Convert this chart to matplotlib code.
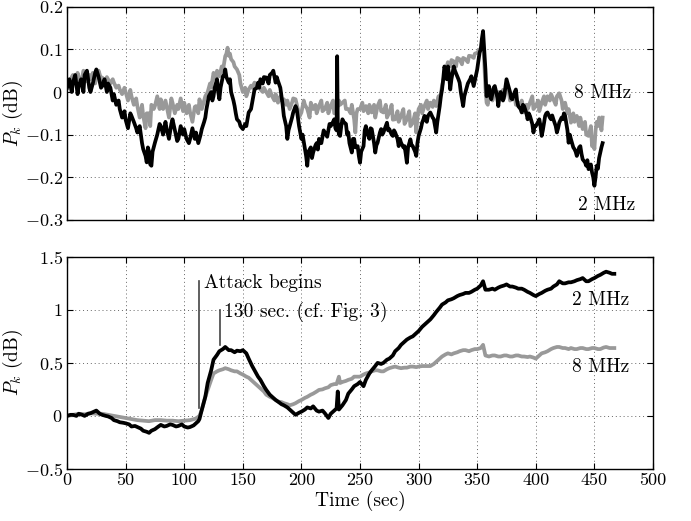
import numpy as np
import matplotlib
matplotlib.use("Agg")
import matplotlib.pyplot as plt

plt.rcParams['font.family'] = 'serif'
plt.rcParams['font.serif'] = ['cmr10']
plt.rcParams['mathtext.fontset'] = 'cm'
plt.rcParams['axes.formatter.use_mathtext'] = True
plt.rcParams['font.size'] = 14

# --- top panel, 2 MHz (black) ---
t_top_2mhz = [0, 2, 4, 5, 7, 9, 10, 12, 14, 15, 17, 19, 20, 22, 24, 25, 27, 29, 30, 32, 34, 35, 37, 39,
              40, 42, 44, 45, 47, 49, 50, 52, 54, 55, 57, 59, 60, 62, 64, 65, 67, 68, 69, 70, 71, 72, 73, 75,
              77, 79, 80, 82, 84, 85, 87, 89, 90, 92, 94, 95, 97, 99, 100, 102, 104, 105, 107, 109, 110, 112,
              114, 115, 117, 118, 119, 120, 121, 123, 124, 125, 126, 128, 129, 130, 131, 133, 134, 135, 136,
              138, 139, 140, 142, 143, 144, 145, 147, 148, 150, 152, 153, 155, 157, 158, 159, 160, 162, 163,
              164, 165, 167, 168, 170, 172, 173, 175, 176, 178, 179, 180, 182, 183, 184, 185, 187, 188, 189,
              190, 192, 193, 195, 196, 198, 200, 201, 203, 204, 205, 206, 208, 209, 210, 212, 213, 214, 215,
              217, 219, 220, 222, 224, 225, 227, 228, 229, 230, 230.5, 231, 232, 233, 234, 235, 236, 238, 239,
              240, 241, 243, 244, 245, 246, 248, 249, 250, 251, 253, 254, 255, 256, 258, 259, 260, 262, 263,
              264, 265, 267, 268, 269, 270, 272, 273, 274, 275, 277, 278, 279, 280, 282, 283, 284, 285, 287,
              288, 289, 290, 291, 293, 294, 295, 297, 298, 299, 300, 302, 303, 304, 305, 307, 308, 310, 312,
              313, 314, 315, 316, 318, 319, 320, 321, 322, 323, 324, 325, 326, 327, 328, 330, 331, 333, 334,
              335, 336, 338, 339, 340, 342, 344, 345, 347, 349, 350, 352, 353, 354, 355, 356, 357, 358, 359,
              360, 361, 362, 364, 365, 367, 368, 369, 370, 372, 373, 374, 375, 376, 378, 379, 380, 382, 383,
              384, 385, 387, 388, 389, 390, 392, 393, 394, 395, 397, 398, 399, 400, 402, 403, 404, 405, 406,
              408, 409, 410, 412, 413, 414, 415, 417, 418, 419, 420, 422, 423, 424, 425, 427, 428, 429, 430,
              432, 433, 434, 435, 437, 438, 439, 440, 442, 443, 444, 445, 447, 448, 449, 450, 451, 452, 453,
              454, 455, 456, 457]
v_top_2mhz = [0.01, 0.03, 0.0, 0.022, 0.04, -0.005, 0.014, 0.03, 0.0, 0.04, 0.05, 0.01, 0.0, 0.02, 0.045,
              0.053, 0.035, 0.01, 0.014, 0.03, 0.0, 0.02, 0.01, -0.02, -0.005, -0.03, -0.02, -0.04, -0.06,
              -0.045, -0.065, -0.085, -0.05, -0.056, -0.07, -0.085, -0.095, -0.08, -0.12, -0.134, -0.15,
              -0.165, -0.13, -0.14, -0.17, -0.173, -0.14, -0.119, -0.1, -0.075, -0.08, -0.1, -0.07, -0.087,
              -0.11, -0.075, -0.064, -0.09, -0.115, -0.11, -0.08, -0.1, -0.087, -0.11, -0.12, -0.11, -0.085,
              -0.11, -0.095, -0.12, -0.1, -0.087, -0.07, -0.06, -0.04, -0.025, -0.01, 0.0, -0.02, -0.01, 0.01,
              0.03, 0.0, -0.017, 0.01, 0.037, 0.04, 0.053, 0.035, 0.022, 0.03, 0.0, -0.02, -0.033, -0.05,
              -0.064, -0.07, -0.08, -0.087, -0.075, -0.08, -0.048, -0.04, -0.025, -0.01, 0.006, 0.01, 0.022,
              0.01, 0.03, 0.02, 0.035, 0.034, 0.02, 0.04, 0.045, 0.05, 0.022, 0.035, 0.026, 0.01, -0.01,
              -0.03, -0.056, -0.08, -0.11, -0.09, -0.08, -0.06, -0.048, -0.033, -0.04, -0.08, -0.11, -0.1,
              -0.134, -0.15, -0.173, -0.14, -0.13, -0.155, -0.142, -0.125, -0.12, -0.135, -0.11, -0.12, -0.09,
              -0.095, -0.105, -0.075, -0.08, -0.07, -0.064, -0.085, -0.09, 0.084, -0.07, -0.1, -0.103, -0.08,
              -0.064, -0.07, -0.075, -0.1, -0.095, -0.12, -0.142, -0.11, -0.11, -0.13, -0.127, -0.15, -0.166,
              -0.14, -0.127, -0.09, -0.08, -0.095, -0.11, -0.085, -0.087, -0.12, -0.142, -0.125, -0.119,
              -0.095, -0.087, -0.1, -0.095, -0.08, -0.072, -0.09, -0.087, -0.1, -0.103, -0.09, -0.095, -0.11,
              -0.127, -0.11, -0.119, -0.13, -0.127, -0.145, -0.166, -0.13, -0.111, -0.125, -0.127, -0.14,
              -0.15, -0.12, -0.103, -0.085, -0.072, -0.065, -0.056, -0.07, -0.056, -0.048, -0.06, -0.064,
              -0.08, -0.095, -0.07, -0.033, -0.01, 0.006, 0.03, 0.06, 0.05, 0.03, 0.06, 0.04, 0.006, 0.03,
              0.06, 0.05, 0.037, 0.03, 0.022, 0.0, -0.033, -0.01, 0.0, 0.02, 0.03, 0.037, 0.014, 0.04, 0.053,
              0.092, 0.1, 0.125, 0.143, 0.1, 0.053, -0.01, 0.0, 0.014, -0.01, -0.017, 0.01, 0.014, -0.01,
              -0.033, -0.01, 0.0, -0.02, -0.01, 0.01, 0.03, 0.02, 0.0, -0.015, -0.017, 0.0, 0.006, -0.02,
              -0.033, -0.04, -0.048, -0.03, -0.033, -0.05, -0.064, -0.05, -0.056, -0.075, -0.095, -0.08,
              -0.08, -0.07, -0.064, -0.08, -0.103, -0.09, -0.056, -0.05, -0.048, -0.06, -0.064, -0.055,
              -0.064, -0.08, -0.095, -0.085, -0.072, -0.06, -0.064, -0.05, -0.056, -0.09, -0.119, -0.1,
              -0.111, -0.13, -0.134, -0.14, -0.15, -0.13, -0.127, -0.145, -0.158, -0.165, -0.173, -0.16,
              -0.181, -0.17, -0.189, -0.2, -0.22, -0.2, -0.173, -0.18, -0.155, -0.142, -0.13, -0.12]

# --- top panel, 8 MHz (gray) ---
t_top_8mhz = [0, 2, 4, 5, 7, 9, 10, 12, 14, 15, 17, 19, 20, 22, 24, 25, 27, 29, 30, 32, 34, 35, 37, 39,
              40, 42, 44, 45, 47, 49, 50, 52, 54, 55, 57, 59, 60, 62, 64, 65, 67, 68, 70, 71, 72, 74, 75, 77,
              79, 80, 82, 84, 85, 87, 89, 90, 92, 94, 95, 97, 99, 100, 102, 104, 105, 107, 109, 110, 112, 113,
              115, 117, 118, 120, 122, 123, 125, 127, 128, 130, 132, 133, 135, 136, 137, 138, 139, 140, 142,
              143, 145, 147, 148, 150, 152, 153, 155, 157, 158, 160, 162, 163, 165, 167, 168, 170, 172, 173,
              175, 177, 178, 180, 182, 183, 185, 187, 188, 190, 192, 193, 195, 197, 198, 200, 202, 203, 205,
              207, 208, 210, 212, 213, 215, 217, 218, 220, 222, 223, 225, 227, 228, 230, 232, 233, 235, 237,
              238, 240, 242, 243, 245, 246, 247, 248, 250, 252, 253, 255, 257, 258, 260, 262, 263, 265, 267,
              268, 270, 272, 273, 275, 277, 278, 280, 282, 283, 285, 287, 288, 290, 292, 293, 295, 297, 298,
              299, 300, 302, 303, 305, 307, 308, 310, 312, 313, 315, 317, 318, 320, 322, 323, 325, 327, 328,
              330, 332, 333, 335, 337, 338, 340, 342, 343, 345, 347, 348, 350, 352, 353, 355, 356, 357, 358,
              359, 360, 362, 363, 365, 367, 368, 370, 372, 373, 375, 377, 378, 380, 382, 383, 385, 387, 388,
              390, 392, 393, 395, 397, 398, 400, 402, 403, 405, 407, 408, 410, 412, 413, 415, 417, 418, 420,
              422, 423, 425, 427, 428, 430, 432, 433, 435, 437, 438, 440, 442, 443, 445, 447, 448, 449, 450,
              451, 452, 453, 454, 455, 456, 457]
v_top_8mhz = [0.026, 0.015, 0.035, 0.04, 0.02, 0.045, 0.035, 0.02, 0.05, 0.045, 0.025, 0.04, 0.03, 0.045,
              0.02, 0.04, 0.05, 0.03, 0.034, 0.015, 0.035, 0.03, 0.02, 0.03, 0.022, 0.01, 0.015, 0.006,
              -0.005, 0.01, 0.0, -0.02, 0.005, -0.01, -0.03, -0.015, -0.033, -0.06, -0.03, -0.056, -0.085,
              -0.05, -0.05, -0.08, -0.03, -0.04, -0.033, -0.01, -0.04, -0.017, -0.04, -0.02, -0.033, -0.06,
              -0.015, -0.025, -0.05, -0.03, -0.04, -0.015, -0.045, -0.025, -0.05, -0.03, -0.048, -0.07,
              -0.035, -0.033, -0.05, -0.017, -0.04, -0.02, -0.01, 0.0, 0.02, 0.01, 0.045, 0.03, 0.05, 0.037,
              0.06, 0.05, 0.084, 0.09, 0.104, 0.085, 0.09, 0.077, 0.07, 0.06, 0.053, 0.04, 0.02, 0.0, 0.01,
              -0.01, 0.006, 0.015, 0.01, 0.022, 0.01, 0.02, 0.006, 0.0, 0.01, 0.0, -0.01, 0.005, -0.01, -0.02,
              -0.005, -0.025, -0.01, -0.02, -0.017, -0.03, -0.02, -0.04, -0.025, -0.015, -0.017, -0.04, -0.06,
              -0.048, -0.02, -0.03, -0.04, -0.06, -0.025, -0.04, -0.03, -0.05, -0.033, -0.02, -0.045, -0.04,
              -0.025, -0.05, -0.033, -0.02, -0.05, -0.048, -0.02, -0.03, -0.025, -0.02, -0.04, -0.04, -0.05,
              -0.03, -0.064, -0.095, -0.05, -0.04, -0.04, -0.025, -0.045, -0.033, -0.05, -0.03, -0.048, -0.03,
              -0.06, -0.033, -0.02, -0.045, -0.048, -0.03, -0.06, -0.048, -0.03, -0.065, -0.064, -0.045,
              -0.07, -0.056, -0.04, -0.075, -0.064, -0.045, -0.08, -0.072, -0.05, -0.095, -0.06, -0.04, -0.03,
              -0.05, -0.033, -0.02, -0.04, -0.025, -0.035, -0.02, -0.033, -0.01, -0.02, 0.014, 0.04, 0.05,
              0.07, 0.06, 0.075, 0.072, 0.06, 0.08, 0.077, 0.065, 0.08, 0.077, 0.07, 0.085, 0.084, 0.08, 0.09,
              0.092, 0.1, 0.1, 0.11, 0.07, 0.01, -0.025, -0.03, -0.01, 0.005, -0.02, 0.006, -0.01, 0.0, -0.01,
              0.005, -0.015, 0.014, 0.0, -0.02, -0.017, -0.01, -0.03, -0.025, -0.035, -0.02, -0.048, -0.03,
              -0.04, -0.025, -0.01, -0.04, -0.033, -0.02, -0.045, -0.025, -0.01, -0.03, -0.01, -0.02, -0.005,
              -0.017, -0.03, -0.01, -0.003, -0.02, -0.04, -0.025, -0.05, -0.04, -0.072, -0.05, -0.07, -0.056,
              -0.08, -0.06, -0.087, -0.07, -0.1, -0.103, -0.08, -0.127, -0.11, -0.134, -0.09, -0.07, -0.08,
              -0.06, -0.064, -0.09, -0.06]

# --- bottom panel, 2 MHz (black) ---
t_bot_2mhz = [0, 3, 5, 8, 10, 13, 15, 18, 20, 23, 25, 28, 30, 33, 35, 38, 40, 43, 45, 48, 50, 53, 55, 58,
              60, 63, 65, 68, 70, 72, 75, 78, 80, 83, 85, 88, 90, 93, 95, 98, 100, 103, 105, 108, 110, 112,
              113, 115, 118, 120, 123, 125, 128, 130, 133, 135, 138, 140, 143, 145, 148, 150, 153, 155, 158,
              160, 163, 165, 168, 170, 173, 175, 178, 180, 183, 185, 188, 190, 193, 195, 198, 200, 203, 205,
              208, 210, 213, 215, 218, 220, 223, 225, 228, 230, 231, 232, 235, 238, 240, 243, 245, 248, 250,
              253, 255, 258, 260, 263, 265, 268, 270, 273, 275, 278, 280, 283, 285, 288, 290, 293, 295, 298,
              300, 303, 305, 308, 310, 313, 315, 318, 320, 323, 325, 328, 330, 333, 335, 338, 340, 343, 345,
              348, 350, 353, 355, 357, 360, 363, 365, 368, 370, 373, 375, 378, 380, 383, 385, 388, 390, 393,
              395, 398, 400, 403, 405, 408, 410, 413, 415, 418, 420, 423, 425, 428, 430, 433, 435, 438, 440,
              443, 445, 448, 450, 453, 455, 458, 460, 463, 465, 467]
v_bot_2mhz = [0.0, 0.01, 0.01, 0.0, 0.02, 0.01, 0.0, 0.02, 0.025, 0.04, 0.05, 0.02, 0.01, 0.0, -0.005,
              -0.02, -0.04, -0.05, -0.06, -0.065, -0.07, -0.08, -0.1, -0.095, -0.105, -0.12, -0.14, -0.15,
              -0.16, -0.14, -0.125, -0.1, -0.085, -0.1, -0.095, -0.08, -0.085, -0.1, -0.095, -0.08, -0.1,
              -0.11, -0.105, -0.09, -0.07, -0.05, -0.03, 0.057, 0.18, 0.31, 0.43, 0.53, 0.575, 0.61, 0.63,
              0.65, 0.62, 0.62, 0.6, 0.615, 0.61, 0.62, 0.59, 0.54, 0.47, 0.43, 0.37, 0.34, 0.28, 0.245, 0.2,
              0.18, 0.15, 0.135, 0.11, 0.1, 0.08, 0.06, 0.03, 0.01, 0.03, 0.04, 0.06, 0.08, 0.07, 0.09, 0.05,
              0.04, 0.05, 0.025, -0.02, 0.02, 0.05, 0.07, 0.23, 0.06, 0.1, 0.15, 0.21, 0.25, 0.28, 0.3, 0.32,
              0.28, 0.34, 0.4, 0.43, 0.47, 0.5, 0.49, 0.5, 0.53, 0.54, 0.57, 0.61, 0.64, 0.67, 0.7, 0.72,
              0.74, 0.75, 0.78, 0.8, 0.84, 0.86, 0.89, 0.91, 0.95, 0.98, 1.02, 1.05, 1.07, 1.09, 1.1, 1.11,
              1.13, 1.14, 1.15, 1.16, 1.16, 1.17, 1.19, 1.2, 1.23, 1.27, 1.19, 1.19, 1.2, 1.19, 1.21, 1.22,
              1.23, 1.24, 1.22, 1.22, 1.21, 1.2, 1.2, 1.19, 1.17, 1.16, 1.14, 1.13, 1.15, 1.16, 1.18, 1.19,
              1.2, 1.22, 1.24, 1.27, 1.25, 1.25, 1.26, 1.26, 1.27, 1.28, 1.29, 1.3, 1.27, 1.27, 1.29, 1.3,
              1.32, 1.33, 1.35, 1.36, 1.35, 1.34, 1.34]

# --- bottom panel, 8 MHz (gray) ---
t_bot_8mhz = [0, 5, 10, 15, 20, 25, 30, 35, 40, 45, 50, 55, 60, 65, 70, 75, 80, 85, 90, 95, 100, 105, 110,
              113, 115, 118, 120, 123, 125, 128, 130, 133, 135, 138, 140, 143, 145, 148, 150, 153, 155, 158,
              160, 163, 165, 168, 170, 173, 175, 178, 180, 183, 185, 188, 190, 193, 195, 198, 200, 203, 205,
              208, 210, 213, 215, 218, 220, 223, 225, 228, 230, 232, 233, 235, 238, 240, 243, 245, 248, 250,
              253, 255, 258, 260, 263, 265, 268, 270, 273, 275, 278, 280, 283, 285, 288, 290, 293, 295, 298,
              300, 303, 305, 308, 310, 313, 315, 318, 320, 323, 325, 328, 330, 333, 335, 338, 340, 343, 345,
              348, 350, 353, 355, 357, 360, 363, 365, 368, 370, 373, 375, 378, 380, 383, 385, 388, 390, 393,
              395, 398, 400, 403, 405, 408, 410, 413, 415, 418, 420, 423, 425, 428, 430, 433, 435, 438, 440,
              443, 445, 448, 450, 453, 455, 458, 460, 463, 467]
v_bot_8mhz = [0.0, 0.01, 0.02, 0.015, 0.025, 0.02, 0.02, 0.01, 0.0, -0.01, -0.02, -0.03, -0.04, -0.045,
              -0.05, -0.04, -0.04, -0.045, -0.045, -0.05, -0.045, -0.04, -0.025, 0.0, 0.057, 0.18, 0.245,
              0.34, 0.4, 0.42, 0.43, 0.44, 0.45, 0.44, 0.43, 0.42, 0.42, 0.4, 0.39, 0.37, 0.36, 0.33, 0.31,
              0.28, 0.26, 0.23, 0.2, 0.18, 0.17, 0.15, 0.135, 0.13, 0.12, 0.11, 0.1, 0.11, 0.12, 0.14, 0.15,
              0.17, 0.18, 0.2, 0.21, 0.23, 0.245, 0.25, 0.26, 0.27, 0.29, 0.3, 0.3, 0.37, 0.31, 0.32, 0.33,
              0.34, 0.35, 0.37, 0.37, 0.37, 0.39, 0.4, 0.41, 0.42, 0.43, 0.43, 0.42, 0.42, 0.44, 0.45, 0.46,
              0.465, 0.455, 0.45, 0.455, 0.455, 0.465, 0.465, 0.46, 0.465, 0.47, 0.47, 0.47, 0.47, 0.49, 0.51,
              0.54, 0.56, 0.58, 0.59, 0.58, 0.59, 0.6, 0.61, 0.62, 0.62, 0.61, 0.62, 0.63, 0.63, 0.64, 0.67,
              0.57, 0.56, 0.57, 0.57, 0.56, 0.56, 0.57, 0.57, 0.56, 0.56, 0.57, 0.57, 0.56, 0.56, 0.555, 0.56,
              0.55, 0.54, 0.57, 0.59, 0.6, 0.61, 0.63, 0.64, 0.65, 0.65, 0.64, 0.64, 0.63, 0.64, 0.63, 0.63,
              0.64, 0.64, 0.63, 0.63, 0.64, 0.64, 0.63, 0.63, 0.645, 0.65, 0.64, 0.64]

gray = '#999999'
lw = 2.7

fig = plt.figure(figsize=(6.91, 5.21), dpi=100)
ax1 = fig.add_axes([0.097, 0.578, 0.848, 0.409])
ax2 = fig.add_axes([0.097, 0.100, 0.848, 0.407])

ax1.plot(t_top_8mhz, v_top_8mhz, color=gray, lw=lw)
ax1.plot(t_top_2mhz, v_top_2mhz, color='black', lw=lw)
ax2.plot(t_bot_8mhz, v_bot_8mhz, color=gray, lw=lw)
ax2.plot(t_bot_2mhz, v_bot_2mhz, color='black', lw=lw)

for ax in (ax1, ax2):
    ax.set_xlim(0, 500)
    ax.set_xticks(np.arange(0, 501, 50))
    ax.grid(True, linestyle=(0, (1, 3)), color='#666666', linewidth=0.7)
    ax.tick_params(direction='in', top=True, right=True, length=4, pad=3, labelsize=13)
    ax.set_ylabel('$P_k$ (dB)')
    for s in ax.spines.values():
        s.set_linewidth(1.0)

ax1.set_ylim(-0.3, 0.2)
ax1.set_yticks([-0.3, -0.2, -0.1, 0, 0.1, 0.2])
ax1.set_yticklabels(['$-0.3$', '$-0.2$', '$-0.1$', '$0$', '$0.1$', '$0.2$'])
ax1.set_xticklabels([])

ax2.set_ylim(-0.5, 1.5)
ax2.set_yticks([-0.5, 0, 0.5, 1, 1.5])
ax2.set_yticklabels(['$-0.5$', '$0$', '$0.5$', '$1$', '$1.5$'])
ax2.set_xticklabels([str(v) for v in range(0, 501, 50)])
ax2.set_xlabel('Time (sec)', labelpad=2)

ax1.yaxis.set_label_coords(-0.072, 0.5)
ax2.yaxis.set_label_coords(-0.072, 0.5)

# labels
ax1.text(433, -0.003, '8 MHz', va='center', ha='left')
ax1.text(436, -0.265, '2 MHz', va='center', ha='left')
ax2.text(431, 1.094, '2 MHz', va='center', ha='left')
ax2.text(431, 0.465, '8 MHz', va='center', ha='left')

# annotations
ax2.plot([113, 113], [0.075, 1.27], color='#444444', lw=1.2)
ax2.text(117, 1.25, 'Attack begins', va='center', ha='left')
ax2.plot([130.5, 130.5], [0.67, 1.0], color='#444444', lw=1.2)
ax2.text(134, 0.98, '130 sec. (cf. Fig. 3)', va='center', ha='left')

fig.savefig('out.png', dpi=100)
